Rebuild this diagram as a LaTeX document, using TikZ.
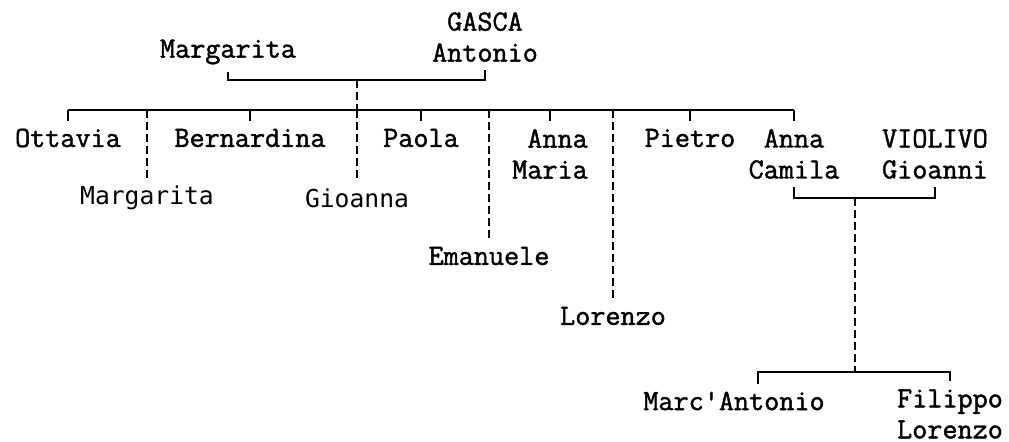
\documentclass[tikz,border=0pt]{standalone}
\usepackage{fontspec}
\newfontfamily\namefont[FakeBold=1.5]{Latin Modern Mono}
\newfontfamily\kidfont{DejaVu Sans Mono}
\begin{document}
\begin{tikzpicture}[x=0.75pt,y=-0.75pt,
        person/.style={font=\namefont\fontsize{22}{23.25}\selectfont,inner sep=0pt,outer sep=6pt,align=center},
        kid/.style={font=\kidfont\fontsize{18.5}{22}\selectfont,inner sep=0pt,outer sep=6pt},
        tie/.style={line width=1.5pt},
        descent/.style={line width=1.5pt,dash pattern=on 6pt off 3pt}]
            \useasboundingbox (0,0) rectangle (1009,442);
            \node[person] (gasca) at (485,37) {GASCA\\Antonio};
            \node[person] (marg) at (228,52) {Margarita};
            \coordinate (pm) at (357,80);
            \coordinate (sib) at (357,110);
            \draw[tie] (marg.south) |- (pm) -| (gasca.south);
            \draw[descent] (pm) -- (sib);
            \node[person] (ott) at (68,138) {Ottavia};
            \node[person] (bern) at (250,138) {Bernardina};
            \node[person] (paola) at (421,138) {Paola};
            \node[person,align=right] (annam) at (550,154) {Anna\\Maria};
            \node[person] (pietro) at (690,138) {Pietro};
            \node[person] (annac) at (794,154) {Anna\\Camila};
            \node[person] (violivo) at (935,154) {VIOLIVO\\Gioanni};
            \node[kid] (marg2) at (147,198) {Margarita};
            \node[kid] (gioa) at (357,198) {Gioanna};
            \node[person] (eman) at (489,256) {Emanuele};
            \node[person] (loren) at (613,316) {Lorenzo};
            \draw[tie] (ott.north |- sib) -- (annac.north |- sib);
            \foreach \kid in {ott,bern,paola,annam,pietro,annac}{
                    \draw[tie] (\kid.north |- sib) -- (\kid.north);
                }
            \foreach \kid in {marg2,gioa,eman,loren}{
                    \draw[descent] (\kid.north |- sib) -- (\kid.north);
                }
            \coordinate (cv) at (855,198);
            \coordinate (kids) at (855,372);
            \draw[tie] (annac.south) |- (cv) -| (violivo.south);
            \draw[descent] (cv) -- (kids);
            \node[person] (marc) at (734,401) {Marc'Antonio};
            \node[person] (filippo) at (950,414) {Filippo\\Lorenzo};
            \draw[tie] ([xshift=18pt]marc.north) |- (kids) -| (filippo.north);
        \end{tikzpicture}
\end{document}
